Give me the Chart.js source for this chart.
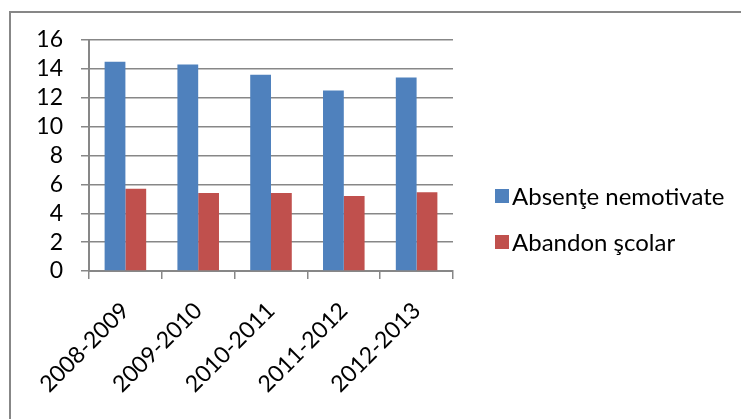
<!DOCTYPE html>
<html><head><meta charset="utf-8">
<script src="https://cdn.jsdelivr.net/npm/chart.js@4"></script>
<style>
html,body{margin:0;padding:0;background:#fff;overflow:hidden;width:741px;height:419px}
#frame{position:absolute;left:9px;top:11px;width:900px;height:600px;border:2px solid #878787;box-sizing:border-box}
#wrap{position:absolute;left:0;top:0;width:741px;height:419px}
#legend{position:absolute;left:495px;top:182px;font-family:Lato,sans-serif;font-size:24px;color:#000}
.item{position:relative;height:28px;line-height:28px;margin-bottom:18px;white-space:nowrap}
.sw{position:absolute;left:0;top:7px;width:14px;height:14px}
.tx{position:absolute;left:17px;top:0}
</style></head><body>
<div id="frame"></div>
<div id="wrap"><canvas id="c"></canvas></div>
<div id="legend"></div>
<script>
const categories = ['2008-2009','2009-2010','2010-2011','2011-2012','2012-2013'];
const absenteValues = [14.5, 14.3, 13.6, 12.5, 13.4];
const abandonValues = [5.7, 5.4, 5.4, 5.2, 5.45];
const seriesNames = ['Absenţe nemotivate', 'Abandon şcolar'];
const seriesColors = ['#4F81BD', '#C0504D'];
const yMin = 0, yMax = 16, yStep = 2;

const FONT = 'Lato';
const gridColor = '#878787';

const seriesValues = [absenteValues, abandonValues];
const datasets = seriesNames.map((name, i) => ({
  label: name,
  data: seriesValues[i],
  backgroundColor: seriesColors[i],
  borderWidth: 0,
  categoryPercentage: 0.571,
  barPercentage: 1.0
}));

new Chart(document.getElementById('c'), {
  type: 'bar',
  data: { labels: categories, datasets },
  options: {
    responsive: true,
    maintainAspectRatio: false,
    animation: false,
    devicePixelRatio: 1,
    layout: { padding: { left: 0, top: 40, right: 288, bottom: 0 } },
    plugins: { legend: { display: false }, tooltip: { enabled: false } },
    scales: {
      x: {
        afterFit: s => { s.height = 148; },
        grid: { display: true, drawOnChartArea: false, color: gridColor, lineWidth: 1.5, tickLength: 8, offset: true },
        border: { display: true, color: gridColor, width: 2 },
        ticks: { color: '#000', font: { family: FONT, size: 23 }, maxRotation: 45, minRotation: 45, padding: 18, autoSkip: false }
      },
      y: {
        min: yMin, max: yMax,
        afterFit: s => { s.width = 89; },
        grid: { color: gridColor, lineWidth: 1.5, tickLength: 8 },
        border: { display: true, color: gridColor, width: 2 },
        ticks: { stepSize: yStep, color: '#000', font: { family: FONT, size: 23 }, padding: 18, autoSkip: false }
      }
    }
  }
});

const leg = document.getElementById('legend');
seriesNames.forEach((name, i) => {
  const it = document.createElement('div');
  it.className = 'item';
  const sw = document.createElement('span');
  sw.className = 'sw';
  sw.style.background = seriesColors[i];
  const tx = document.createElement('span');
  tx.className = 'tx';
  tx.textContent = name;
  it.appendChild(sw); it.appendChild(tx);
  leg.appendChild(it);
});
</script>
</body></html>
